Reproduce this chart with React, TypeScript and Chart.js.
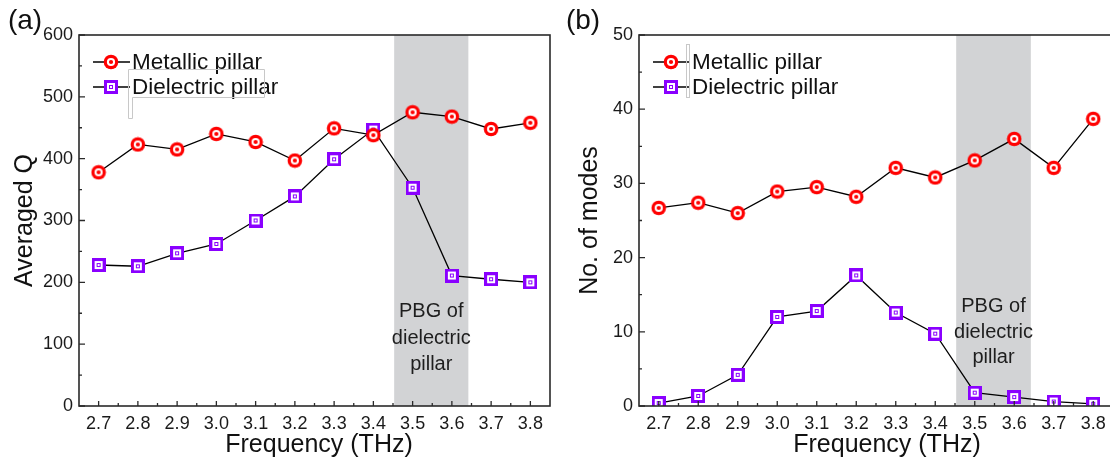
import React, { useEffect, useRef } from 'react';
import { Chart, registerables } from 'chart.js';

Chart.register(...registerables);

// ---------- data ----------
const frequencies = [2.7, 2.8, 2.9, 3.0, 3.1, 3.2, 3.3, 3.4, 3.5, 3.6, 3.7, 3.8];
const freqLabels = ['2.7', '2.8', '2.9', '3.0', '3.1', '3.2', '3.3', '3.4', '3.5', '3.6', '3.7', '3.8'];
const qMetallic = [378, 423, 415, 440, 427, 397, 449, 438, 475, 468, 448, 458];
const qDielectric = [228, 226, 247, 262, 300, 339, 399, 447, 353, 211, 205, 200];
const modesMetallic = [26.7, 27.4, 26.0, 28.9, 29.5, 28.2, 32.1, 30.8, 33.1, 36.0, 32.1, 38.7];
const modesDielectric = [0.4, 1.35, 4.2, 12.0, 12.8, 17.6, 12.6, 9.75, 1.8, 1.2, 0.6, 0.3];
const qTicks = [0, 100, 200, 300, 400, 500, 600];
const modesTicks = [0, 10, 20, 30, 40, 50];
const xRange = [2.65, 3.85];
const pbgBand = [3.453, 3.642];
const pbgText = ['PBG of', 'dielectric', 'pillar'];
const seriesNames = ['Metallic pillar', 'Dielectric pillar'];
const xTitle = 'Frequency (THz)';

const FONT = '"Liberation Sans", Arial, Helvetica, sans-serif';
const RED = '#ff0000';
const PURPLE = '#8a00ff';

function makeCircleMarker(): HTMLCanvasElement {
  const c = document.createElement('canvas');
  c.width = 16;
  c.height = 16;
  const g = c.getContext('2d')!;
  g.fillStyle = RED;
  g.beginPath(); g.arc(8, 8, 7.3, 0, Math.PI * 2); g.fill();
  g.fillStyle = '#ffffff';
  g.beginPath(); g.arc(8, 8, 4.1, 0, Math.PI * 2); g.fill();
  g.fillStyle = RED;
  g.beginPath(); g.arc(8, 8, 2.1, 0, Math.PI * 2); g.fill();
  return c;
}

function makeSquareMarker(): HTMLCanvasElement {
  const c = document.createElement('canvas');
  c.width = 14;
  c.height = 14;
  const g = c.getContext('2d')!;
  g.fillStyle = PURPLE;
  g.fillRect(0, 0, 14, 14);
  g.fillStyle = '#ffffff';
  g.fillRect(3, 3, 8, 8);
  g.fillStyle = PURPLE;
  g.fillRect(5, 5, 4, 4);
  g.fillStyle = '#ffffff';
  g.fillRect(6, 6, 2, 2);
  return c;
}

type PanelProps = {
  left: number;
  width: number;
  axisWidth: number;
  rightPad: number;
  yTicks: number[];
  metallic: number[];
  dielectric: number[];
  yTitle: string;
  yTitlePad: number;
  xTitleOffset: number;
  panelLabel: string;
  panelLabelX: number;
  textRows: number[];
  artifact: (ctx: CanvasRenderingContext2D) => void;
};

function Panel(p: PanelProps) {
  const ref = useRef<HTMLCanvasElement | null>(null);

  useEffect(() => {
    const canvas = ref.current;
    if (!canvas) return;
    const circle = makeCircleMarker();
    const square = makeSquareMarker();

    const decor = {
      id: 'decor',
      beforeDatasetsDraw(chart: any) {
        const { ctx, chartArea } = chart;
        const xs = chart.scales.x;
        const x0 = xs.getPixelForValue(pbgBand[0]);
        const x1 = xs.getPixelForValue(pbgBand[1]);
        ctx.save();
        ctx.fillStyle = '#d2d3d5';
        ctx.fillRect(x0, chartArea.top, x1 - x0, chartArea.bottom - chartArea.top);
        ctx.restore();
      },
      afterDatasetsDraw(chart: any) {
        const { ctx, chartArea } = chart;
        const xs = chart.scales.x;
        const ys = chart.scales.y;
        ctx.save();
        // PBG annotation
        ctx.fillStyle = '#1e1e1e';
        ctx.font = `20px ${FONT}`;
        ctx.textAlign = 'center';
        ctx.textBaseline = 'middle';
        const cx = xs.getPixelForValue((pbgBand[0] + pbgBand[1]) / 2);
        pbgText.forEach((t, i) => ctx.fillText(t, cx, p.textRows[i]));

        // x axis title
        ctx.fillStyle = '#111';
        ctx.font = `25px ${FONT}`;
        ctx.textAlign = 'center';
        ctx.textBaseline = 'alphabetic';
        ctx.fillText(xTitle, chartArea.left + p.xTitleOffset, 452);

        // frame
        ctx.strokeStyle = '#2a2a2a';
        ctx.lineWidth = 1.6;
        ctx.strokeRect(chartArea.left, chartArea.top, chartArea.right - chartArea.left, chartArea.bottom - chartArea.top);

        // inward ticks
        ctx.lineWidth = 1.3;
        ctx.beginPath();
        frequencies.forEach((f, i) => {
          const x = xs.getPixelForValue(f);
          ctx.moveTo(x, chartArea.bottom);
          ctx.lineTo(x, chartArea.bottom - 5);
          if (i < frequencies.length - 1) {
            const xm = xs.getPixelForValue((f + frequencies[i + 1]) / 2);
            ctx.moveTo(xm, chartArea.bottom);
            ctx.lineTo(xm, chartArea.bottom - 3);
          }
        });
        p.yTicks.forEach((v, i) => {
          const y = ys.getPixelForValue(v);
          ctx.moveTo(chartArea.left, y);
          ctx.lineTo(chartArea.left + 6, y);
          if (i < p.yTicks.length - 1) {
            const ym = ys.getPixelForValue((v + p.yTicks[i + 1]) / 2);
            ctx.moveTo(chartArea.left, ym);
            ctx.lineTo(chartArea.left + 3, ym);
          }
        });
        ctx.stroke();

        // legend
        const legendRows = [62, 87];
        const markers = [circle, square];
        seriesNames.forEach((name, i) => {
          const y = legendRows[i];
          ctx.strokeStyle = '#000';
          ctx.lineWidth = 1.3;
          ctx.beginPath();
          ctx.moveTo(chartArea.left + 14, y);
          ctx.lineTo(chartArea.left + 51, y);
          ctx.stroke();
          const m = markers[i];
          ctx.drawImage(m, chartArea.left + 32 - m.width / 2, y - m.height / 2);
          ctx.fillStyle = '#111';
          ctx.font = `22.5px ${FONT}`;
          ctx.textAlign = 'left';
          ctx.textBaseline = 'middle';
          ctx.fillText(name, chartArea.left + 53, y + 1);
        });

        // scan artifacts
        p.artifact(ctx);

        // panel label
        ctx.fillStyle = '#111';
        ctx.font = `28px ${FONT}`;
        ctx.textAlign = 'center';
        ctx.textBaseline = 'middle';
        ctx.fillText(p.panelLabel, p.panelLabelX, 21);
        ctx.restore();
      },
    };

    const chart = new Chart(canvas, {
      type: 'line',
      data: {
        datasets: [
          {
            label: seriesNames[0],
            data: frequencies.map((f, i) => ({ x: f, y: p.metallic[i] })),
            borderColor: '#000',
            borderWidth: 1.3,
            pointStyle: circle as any,
            pointRadius: 8,
            pointHoverRadius: 8,
          },
          {
            label: seriesNames[1],
            data: frequencies.map((f, i) => ({ x: f, y: p.dielectric[i] })),
            borderColor: '#000',
            borderWidth: 1.3,
            pointStyle: square as any,
            pointRadius: 7,
            pointHoverRadius: 7,
          },
        ],
      },
      options: {
        animation: false,
        responsive: false,
        devicePixelRatio: 1,
        events: [],
        layout: { padding: { left: 0, top: 35, right: p.rightPad, bottom: 0 } },
        plugins: {
          legend: { display: false },
          tooltip: { enabled: false },
        },
        scales: {
          x: {
            type: 'linear',
            min: xRange[0],
            max: xRange[1],
            grid: { display: false, drawTicks: false },
            border: { display: false },
            afterBuildTicks: (scale: any) => {
              scale.ticks = frequencies.map((v) => ({ value: v }));
            },
            afterFit: (scale: any) => {
              scale.height = 60;
              scale.paddingLeft = 0;
              scale.paddingRight = 0;
            },
            ticks: {
              autoSkip: false,
              maxRotation: 0,
              padding: 7,
              color: '#1a1a1a',
              font: { family: FONT, size: 18 },
              callback: (_v: any, i: number) => freqLabels[i],
            },
            title: { display: false, text: xTitle },
          },
          y: {
            type: 'linear',
            min: p.yTicks[0],
            max: p.yTicks[p.yTicks.length - 1],
            grid: { display: false, drawTicks: false },
            border: { display: false },
            afterBuildTicks: (scale: any) => {
              scale.ticks = p.yTicks.map((v) => ({ value: v }));
            },
            afterFit: (scale: any) => {
              scale.width = p.axisWidth;
              scale.paddingTop = 0;
              scale.paddingBottom = 0;
            },
            ticks: {
              padding: 6,
              color: '#1a1a1a',
              font: { family: FONT, size: 18 },
              callback: (v: any) => String(v),
            },
            title: {
              display: true,
              text: p.yTitle,
              color: '#111',
              font: { family: FONT, size: 25 },
              padding: { top: p.yTitlePad, bottom: 0 },
            },
          },
        },
      },
      plugins: [decor],
    });
    return () => chart.destroy();
  }, []);

  return (
    <canvas
      ref={ref}
      width={p.width}
      height={466}
      style={{ position: 'absolute', left: p.left, top: 0, width: p.width, height: 466 }}
    />
  );
}

export default function App() {
  return (
    <div style={{ position: 'fixed', left: 0, top: 0, width: 1110, height: 466, background: '#fff', overflow: 'hidden' }}>
      <Panel
        left={0}
        width={561}
        axisWidth={79}
        rightPad={11}
        yTicks={qTicks}
        metallic={qMetallic}
        dielectric={qDielectric}
        yTitle="Averaged Q"
        yTitlePad={10}
        xTitleOffset={240}
        panelLabel="(a)"
        panelLabelX={25}
        textRows={[311, 338, 364]}
        artifact={(ctx) => {
          ctx.strokeStyle = '#c8c8c8';
          ctx.lineWidth = 1;
          ctx.beginPath();
          ctx.moveTo(128.5, 118.5);
          ctx.lineTo(128.5, 69.5);
          ctx.lineTo(264.5, 69.5);
          ctx.lineTo(264.5, 97.5);
          ctx.lineTo(132.5, 97.5);
          ctx.lineTo(132.5, 118.5);
          ctx.closePath();
          ctx.stroke();
        }}
      />
      <Panel
        left={561}
        width={600}
        axisWidth={78}
        rightPad={48}
        yTicks={modesTicks}
        metallic={modesMetallic}
        dielectric={modesDielectric}
        yTitle="No. of modes"
        yTitlePad={14}
        xTitleOffset={248}
        panelLabel="(b)"
        panelLabelX={22}
        textRows={[306, 332, 357]}
        artifact={(ctx) => {
          ctx.strokeStyle = '#c8c8c8';
          ctx.lineWidth = 1;
          ctx.strokeRect(125.5, 44.5, 3, 53);
        }}
      />
    </div>
  );
}
